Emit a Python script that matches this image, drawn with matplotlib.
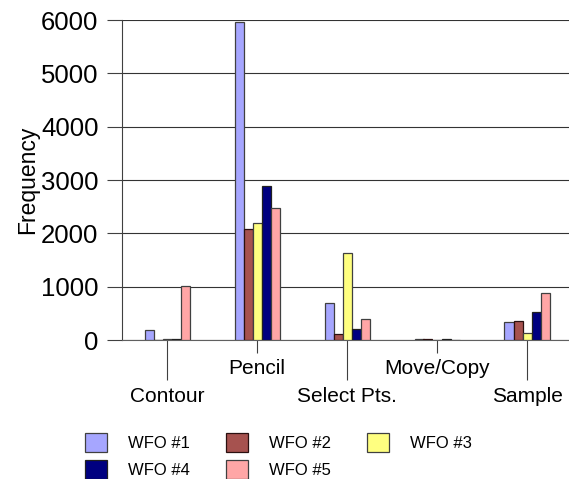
import matplotlib.pyplot as plt
from matplotlib.patches import Patch

plt.rcParams['font.family'] = ['Liberation Sans', 'DejaVu Sans']

categories = ['Contour', 'Pencil', 'Select Pts.', 'Move/Copy', 'Sample']
series = ['WFO #1', 'WFO #2', 'WFO #3', 'WFO #4', 'WFO #5']
wfo1 = [190, 5970, 700, 20, 330]
wfo2 = [5, 2090, 120, 10, 350]
wfo3 = [15, 2200, 1640, 5, 140]
wfo4 = [15, 2890, 200, 10, 520]
wfo5 = [1020, 2480, 400, 5, 890]
values = [wfo1, wfo2, wfo3, wfo4, wfo5]
colors = ['#a6a6ff', '#a6524f', '#ffff80', '#000080', '#ffa6a6']
edges = ['#404040', '#2a1010', '#404040', '#202020', '#404040']

fig = plt.figure(figsize=(5.69, 4.79), dpi=100)
ax = fig.add_axes([122 / 569, 139 / 479, 450 / 569, 320 / 479])

w = 0.1
for i, (vals, c, ec) in enumerate(zip(values, colors, edges)):
    xs = [k + (i - 2) * w for k in range(len(categories))]
    ax.bar(xs, vals, width=w, color=c, edgecolor=ec, linewidth=0.9, zorder=3)

ax.set_xlim(-0.5, 4.5)
ax.set_ylim(0, 6000)
ax.set_yticks(range(0, 6001, 1000))
ax.tick_params(axis='y', length=11, width=0.8, color='#404040', pad=6, labelsize=18.5)
ax.grid(axis='y', color='#333333', linewidth=0.8, zorder=0)

# staggered category labels: long ticks for even, short for odd
ax.set_xticks([0, 2, 4], [categories[0], categories[2], categories[4]])
ax.set_xticks([1, 3], [categories[1], categories[3]], minor=True)
ax.tick_params(axis='x', which='major', length=29, width=0.8, color='#404040',
               pad=5, labelsize=15)
ax.tick_params(axis='x', which='minor', length=9, width=0.8, color='#404040',
               pad=5, labelsize=15)

for s in ['top', 'right']:
    ax.spines[s].set_visible(False)
ax.spines['left'].set_color('#404040')
ax.spines['bottom'].set_color('#606060')
ax.spines['left'].set_linewidth(0.8)
ax.spines['bottom'].set_linewidth(0.8)

ax.set_ylabel('Frequency', fontsize=16.5, labelpad=1)

handles = [Patch(facecolor=c, edgecolor=ec, linewidth=0.9, label=s)
           for c, ec, s in zip(colors, edges, series)]
order = [0, 3, 1, 4, 2]
fig.legend([handles[i] for i in order], [series[i] for i in order],
           ncol=3, loc='upper left', bbox_to_anchor=(85 / 569, 1 - 433 / 479),
           frameon=False, fontsize=12, borderpad=0, borderaxespad=0,
           handlelength=1.3, handleheight=1.35, handletextpad=1.25,
           columnspacing=2.2, labelspacing=0.5)

fig.savefig('out.png', dpi=100)
